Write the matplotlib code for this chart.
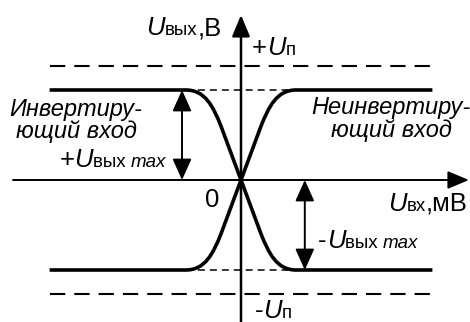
import matplotlib
matplotlib.use("Agg")
import matplotlib.pyplot as plt
from matplotlib.path import Path
from matplotlib.patches import PathPatch
from matplotlib.transforms import offset_copy

plt.rcParams["font.family"] = ["Liberation Sans", "DejaVu Sans"]
plt.rcParams["lines.scale_dashes"] = False

# Levels (relative units): output saturation and supply voltage
U_OUT_MAX = 1.0
U_SUPPLY = 1.27
X_END = 3.3

# Inverting transfer characteristic: saturation, rounded knee, linear region
inv_x = [-X_END, -0.95, -0.62, -0.48, -0.34, 0.34, 0.48, 0.62, 0.95, X_END]
inv_y = [1.0, 1.0, 1.0, 0.82, 0.59, -0.59, -0.82, -1.0, -1.0, -1.0]
# Non-inverting characteristic is the mirror image
noninv_x = inv_x
noninv_y = [-v for v in inv_y]
curve_codes = [Path.MOVETO, Path.LINETO, Path.CURVE4, Path.CURVE4, Path.CURVE4,
               Path.LINETO, Path.CURVE4, Path.CURVE4, Path.CURVE4, Path.LINETO]

KNEE = 0.95

fig = plt.figure(figsize=(4.70, 3.22), dpi=100)
ax = fig.add_axes([0, 0, 1, 1])
ax.set_xlim(-241 / 58, 229 / 58)
ax.set_ylim(-142 / 90, 180 / 90)
ax.axis("off")

# supply rails
for lvl in (U_SUPPLY, -U_SUPPLY):
    ax.plot([-X_END, X_END], [lvl, lvl], color="black", lw=1.5,
            linestyle=(0, (11, 6.5)), solid_capstyle="butt")
# saturation level guides between the knees
for lvl in (U_OUT_MAX, -U_OUT_MAX):
    ax.plot([-KNEE, KNEE], [lvl, lvl], color="black", lw=1.1,
            linestyle=(0, (5, 3.6)))

# characteristics
for xs, ys in ((inv_x, inv_y), (noninv_x, noninv_y)):
    p = Path(list(zip(xs, ys)), curve_codes)
    ax.add_patch(PathPatch(p, facecolor="none", edgecolor="black", lw=2.6,
                           capstyle="butt", joinstyle="round"))

# axes with arrows
axis_style = "-|>,head_length=1.0,head_width=0.42"
ax.annotate("", xy=(3.93, 0), xytext=(-3.93, 0),
            arrowprops=dict(arrowstyle=axis_style, mutation_scale=13, lw=1.4,
                            color="black", shrinkA=0, shrinkB=0))
ax.annotate("", xy=(0, 1.833), xytext=(0, -1.6),
            arrowprops=dict(arrowstyle=axis_style, mutation_scale=13, lw=1.8,
                            color="black", shrinkA=0, shrinkB=0))

# amplitude arrows
dbl_style = "<|-|>,head_length=1.0,head_width=0.45"
ax.annotate("", xy=(-1.017, U_OUT_MAX), xytext=(-1.017, 0),
            arrowprops=dict(arrowstyle=dbl_style, mutation_scale=13, lw=1.4,
                            color="black", shrinkA=0, shrinkB=0))
ax.annotate("", xy=(1.10, 0), xytext=(1.10, -U_OUT_MAX),
            arrowprops=dict(arrowstyle=dbl_style, mutation_scale=13, lw=1.4,
                            color="black", shrinkA=0, shrinkB=0))

BIG = 18.5    # main symbols
SUB = 13.5    # index letters
BODY = 17     # italic captions
renderer = fig.canvas.get_renderer()


def rich_text(x, y, parts, ha="left"):
    """Draw a run of (text, size, style) pieces on a common baseline."""
    items = []
    for s, size, style in parts:
        t = ax.text(x, y, s, fontsize=size, style=style, va="baseline",
                    ha="left")
        items.append(t)
    widths = [t.get_window_extent(renderer).width for t in items]
    total = sum(widths)
    start = {"left": 0.0, "right": -total, "center": -total / 2}[ha]
    off = start
    for t, w in zip(items, widths):
        t.set_transform(offset_copy(ax.transData, fig, x=off, y=0,
                                    units="dots"))
        off += w


N, I = "normal", "italic"
rich_text(-0.33, 1.61, [("U", BIG, I), ("вых", SUB, N), (",В", BIG, N)],
          ha="right")
rich_text(0.19, 1.39, [("+", BIG, N), ("U", BIG, I), ("п", SUB, N)])
ax.text(-2.845, 0.71, "Инвертиру-", fontsize=BODY, style="italic",
        ha="center", va="baseline")
ax.text(-2.845, 0.467, "ющий вход", fontsize=BODY, style="italic",
        ha="center", va="baseline")
rich_text(-1.29, 0.144, [("+", BIG, N), ("U", BIG, I), ("вых ", SUB, N),
                         ("max", SUB, I)], ha="right")
ax.text(2.59, 0.733, "Неинвертиру-", fontsize=BODY, style="italic",
        ha="center", va="baseline")
ax.text(2.59, 0.478, "ющий вход", fontsize=BODY, style="italic",
        ha="center", va="baseline")
ax.text(-0.5, -0.222, "0", fontsize=BIG, ha="center", va="center")
rich_text(3.91, -0.344, [("U", BIG, I), ("вх", SUB, N), (",мВ", BIG, N)],
          ha="right")
rich_text(1.33, -0.755, [("-", BIG, N), ("U", BIG, I), ("вых ", SUB, N),
                         ("max", SUB, I)])
rich_text(0.24, -1.53, [("-", BIG, N), ("U", BIG, I), ("п", SUB, N)])

fig.savefig("out.png", dpi=100)
